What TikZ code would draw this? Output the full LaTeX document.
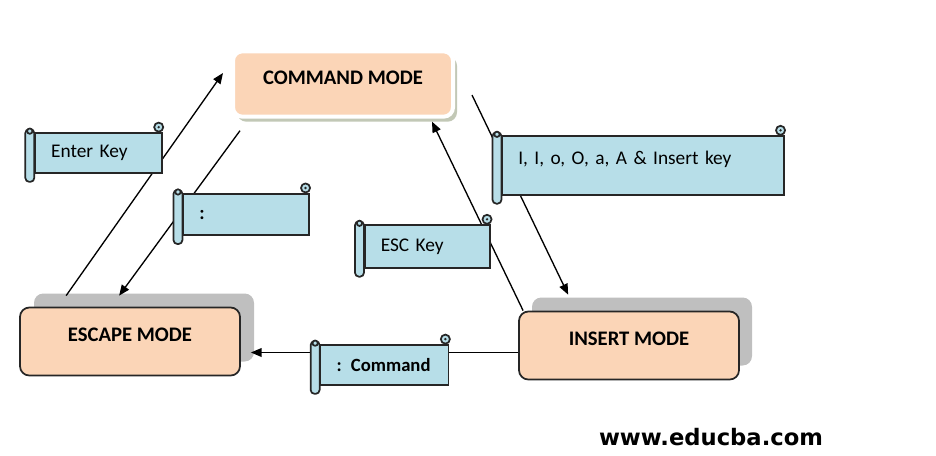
\documentclass[tikz,border=0pt]{standalone}
\usepackage{fontspec}
\setmainfont{Carlito}
\newfontfamily\webfont{DejaVu Sans}
\usetikzlibrary{calc,arrows.meta}

\definecolor{peach}{HTML}{FBD5B7}
\definecolor{scrollblue}{HTML}{B7DEE8}
\definecolor{shadowgray}{HTML}{BFBFBF}
\definecolor{cmdgray}{HTML}{C2C8B6}

\tikzset{
  modebox/.style={rectangle, rounded corners=7pt, fill=peach, draw=black!85, line width=1.3pt,
    minimum width=165pt, minimum height=51pt, text height=10pt, text depth=10pt,
    font=\fontsize{15.5}{17}\selectfont\bfseries},
  modeshadow/.style={rectangle, rounded corners=7pt, fill=shadowgray, minimum width=165pt, minimum height=51pt},
  scrollbox/.style={rectangle, fill=scrollblue, draw=black!85, line width=1.3pt, inner xsep=12pt,
    text width=#1, align=left, font=\fontsize{14.5}{16}\selectfont},
  scrollline/.style={fill=scrollblue, draw=black!85, line width=1.3pt},
  arrow/.style={-{Triangle[length=8pt,width=6.5pt]}, line width=1pt}
}

\newcommand\scrollparts[1]{%
  \draw[scrollline, rounded corners=3pt] ($(#1.north west)+(-9,-3)$) rectangle ($(#1.south west)+(0,8)$);
  \draw[scrollline] ($(#1.north west)+(-4.5,-1)$) circle[radius=2pt];
  \draw[scrollline] ($(#1.north east)+(-4,-5)$) circle[radius=3.4pt];
  \fill[black!85] ($(#1.north east)+(-4,-5)$) circle[radius=1pt];
}

\begin{document}
\begin{tikzpicture}[x=0.75pt, y=-0.75pt]
    \useasboundingbox (0,0) rectangle (936,455);
    % the three modes
    \node[modeshadow, fill=cmdgray, minimum height=49pt] (cmdsh) at (347,89) {};
    \node[modebox, draw=white, line width=3pt, minimum height=49pt] (command) at (343,84) {COMMAND MODE};
    \node[modeshadow] (escsh) at (144,327.5) {};
    \node[modebox] (escape) at (130,341.5) {ESCAPE MODE};
    \node[modeshadow] (inssh) at (642,331.5) {};
    \node[modebox] (insert) at (629,345.5) {INSERT MODE};
    % transitions
    \draw[arrow] ($(escape.north west)+(47,-11)$) -- ($(command.west)+(-8,-11)$);
    \draw[arrow] ($(command.south west)+(9,12)$) -- ($(escape.north west)+(100,-11)$);
    \draw[arrow] ($(command.east)+(17,11)$) -- ($(insert.north west)+(50,-16)$);
    \draw[arrow] ($(insert.north west)+(5,0)$) -- ($(command.south east)+(-23,3)$);
    \draw[arrow] ($(insert.west)+(0,7)$) -- ($(escape.east)+(10,11)$);
    % key labels
    \node[scrollbox=71pt, minimum height=30pt] (enter) at (98.5,153) {Enter Key};
    \scrollparts{enter}
    \node[scrollbox=187pt, minimum height=44pt, text height=10pt, text depth=12pt] (ikeys) at (643,165.5) {I, I, o, O, a, A \& Insert key};
    \scrollparts{ikeys}
    \node[scrollbox=70pt, minimum height=31pt] (colon) at (246,214.5) {\textbf{:}};
    \scrollparts{colon}
    \node[scrollbox=70pt, minimum height=32pt] (esckey) at (427.5,246.5) {ESC Key};
    \scrollparts{esckey}
    \node[scrollbox=72pt, minimum height=30pt, font=\fontsize{14}{16}\selectfont\bfseries] (cmdkey) at (384.5,365) {: Command};
    \scrollparts{cmdkey}
    \node[font=\webfont\bfseries\fontsize{17}{20}\selectfont] (site) at (711,437) {www.educba.com};
\end{tikzpicture}
\end{document}
